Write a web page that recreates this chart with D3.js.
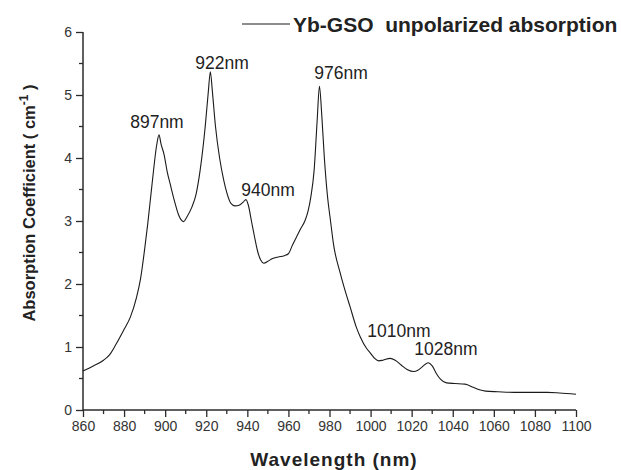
<!DOCTYPE html>
<html>
<head>
<meta charset="utf-8">
<script src="https://cdn.jsdelivr.net/npm/d3@7"></script>
<style>
  body { margin: 0; background: #fff; }
  svg { display: block; font-family: "Liberation Sans", Arial, sans-serif; }
</style>
</head>
<body>
<script>
// wavelength (nm) and absorption coefficient (cm-1)
let wavelength = [860, 865, 870, 873, 876, 880, 883, 886, 888, 890, 891.5, 893.5, 896, 897, 898, 899.5,
  901, 902.5, 904.5, 906.5, 908, 909, 910.5, 913, 915, 917, 919.5, 921, 922, 923, 924.5, 926.5,
  928.5, 930, 932, 934, 936, 938, 939.3, 940.5, 942, 943.5, 945, 946.5, 948, 950, 952, 955,
  958, 960, 962, 964, 966, 968, 969.5, 971, 972.5, 974, 975.1, 976.2, 977.5, 979, 980.5, 982,
  985, 988, 990, 993, 995, 998, 1000, 1002, 1004, 1006, 1009.5, 1012, 1015, 1018, 1021, 1023,
  1025, 1028, 1030, 1032, 1034, 1037, 1041, 1046, 1050, 1053, 1056, 1062, 1070, 1078, 1086, 1092, 1100];
let absorption = [0.62, 0.70, 0.79, 0.88, 1.04, 1.28, 1.47, 1.78, 2.08, 2.55, 2.95, 3.55, 4.23, 4.37, 4.22, 4.05,
  3.78, 3.58, 3.32, 3.10, 3.01, 2.99, 3.06, 3.22, 3.42, 3.80, 4.50, 5.05, 5.37, 5.05, 4.50, 4.00,
  3.65, 3.45, 3.28, 3.24, 3.25, 3.30, 3.34, 3.25, 3.00, 2.75, 2.52, 2.38, 2.33, 2.36, 2.40, 2.43,
  2.45, 2.48, 2.62, 2.75, 2.88, 3.00, 3.15, 3.40, 3.80, 4.60, 5.14, 4.70, 4.00, 3.40, 3.00, 2.62,
  2.20, 1.85, 1.64, 1.32, 1.16, 0.98, 0.90, 0.82, 0.78, 0.79, 0.82, 0.79, 0.71, 0.64, 0.61, 0.63,
  0.68, 0.75, 0.70, 0.58, 0.49, 0.43, 0.42, 0.41, 0.36, 0.32, 0.30, 0.29, 0.28, 0.28, 0.28, 0.27, 0.25];

let xTicks = [860, 880, 900, 920, 940, 960, 980, 1000, 1020, 1040, 1060, 1080, 1100];
let yTicks = [0, 1, 2, 3, 4, 5, 6];

// peak labels: text, centre wavelength, baseline value
let peakText = ["897nm", "922nm", "940nm", "976nm", "1010nm", "1028nm"];
let peakNm = [896, 927.7, 950.1, 985.6, 1013.8, 1036.7];
let peakBase = [4.48, 5.41, 3.4, 5.25, 1.16, 0.88];

let seriesName = "Yb-GSO  unpolarized absorption";

function graficar() {
  let w = 621;
  let h = 470;
  let svg = d3.select("body").append("svg").attr("width", w).attr("height", h);

  let x = d3.scaleLinear().domain([860, 1100]).range([83, 576]);
  let y = d3.scaleLinear().domain([0, 6]).range([410, 32]);

  let ink = "#2b2b2b";
  let fuente = "Liberation Sans, Arial, sans-serif";

  // minor ticks
  let xMinor = d3.range(870, 1100, 20);
  let yMinor = d3.range(0.5, 6, 1);

  let gx = svg.append("g").attr("transform", "translate(0,410)");
  gx.call(d3.axisBottom(x).tickValues(xTicks).tickSize(7).tickPadding(4).tickFormat(d3.format("d")));
  gx.selectAll("text").attr("font-size", 14).attr("fill", "#333").attr("font-family", fuente);
  gx.selectAll("line").attr("stroke", ink).attr("stroke-width", 1.3);
  gx.select(".domain").attr("stroke", ink).attr("stroke-width", 1.5).attr("d", "M83,0H576");
  gx.selectAll(".minor").data(xMinor).enter().append("line")
    .attr("class", "minor")
    .attr("x1", d => x(d)).attr("x2", d => x(d))
    .attr("y1", 0).attr("y2", 4)
    .attr("stroke", ink).attr("stroke-width", 1.3);

  let gy = svg.append("g").attr("transform", "translate(83,0)");
  gy.call(d3.axisLeft(y).tickValues(yTicks).tickSize(7).tickPadding(4).tickFormat(d3.format("d")));
  gy.selectAll("text").attr("font-size", 14).attr("fill", "#333").attr("font-family", fuente);
  gy.selectAll("line").attr("stroke", ink).attr("stroke-width", 1.3);
  gy.select(".domain").attr("stroke", ink).attr("stroke-width", 1.5).attr("d", "M0,32V410");
  gy.selectAll(".minor").data(yMinor).enter().append("line")
    .attr("class", "minor")
    .attr("x1", 0).attr("x2", -4)
    .attr("y1", d => y(d)).attr("y2", d => y(d))
    .attr("stroke", ink).attr("stroke-width", 1.3);

  // the spectrum
  let puntos = wavelength.map((d, i) => [d, absorption[i]]);
  let linea = d3.line()
    .x(d => x(d[0]))
    .y(d => y(d[1]))
    .curve(d3.curveMonotoneX);

  svg.append("path")
    .datum(puntos)
    .attr("d", linea)
    .attr("fill", "none")
    .attr("stroke", "#1a1a1a")
    .attr("stroke-width", 1.1);

  // peak labels
  svg.selectAll(".peak")
    .data(peakText)
    .enter()
    .append("text")
    .attr("class", "peak")
    .text(d => d)
    .attr("x", (d, i) => x(peakNm[i]))
    .attr("y", (d, i) => y(peakBase[i]))
    .attr("text-anchor", "middle")
    .attr("font-size", 17.5)
    .attr("fill", "#222");

  // legend
  svg.append("line")
    .attr("x1", 242).attr("x2", 290)
    .attr("y1", 24).attr("y2", 24)
    .attr("stroke", "#1a1a1a").attr("stroke-width", 1.1);
  svg.append("text")
    .text(seriesName)
    .attr("x", 293).attr("y", 32)
    .attr("font-size", 21)
    .attr("font-weight", "bold")
    .attr("fill", "#222")
    .style("white-space", "pre");

  // axis titles
  svg.append("text")
    .text("Wavelength (nm)")
    .attr("x", 334).attr("y", 466)
    .attr("text-anchor", "middle")
    .attr("font-size", 19)
    .attr("font-weight", "bold")
    .attr("letter-spacing", 1)
    .attr("fill", "#222");

  let yt = svg.append("text")
    .attr("transform", "translate(35,203) rotate(-90)")
    .attr("text-anchor", "middle")
    .attr("font-size", 16.5)
    .attr("font-weight", "bold")
    .attr("fill", "#222");
  yt.append("tspan").text("Absorption Coefficient ( cm");
  yt.append("tspan").text("-1").attr("font-size", 12).attr("dy", -7);
  yt.append("tspan").text(" )").attr("dy", 7);
}

graficar();
</script>
</body>
</html>
